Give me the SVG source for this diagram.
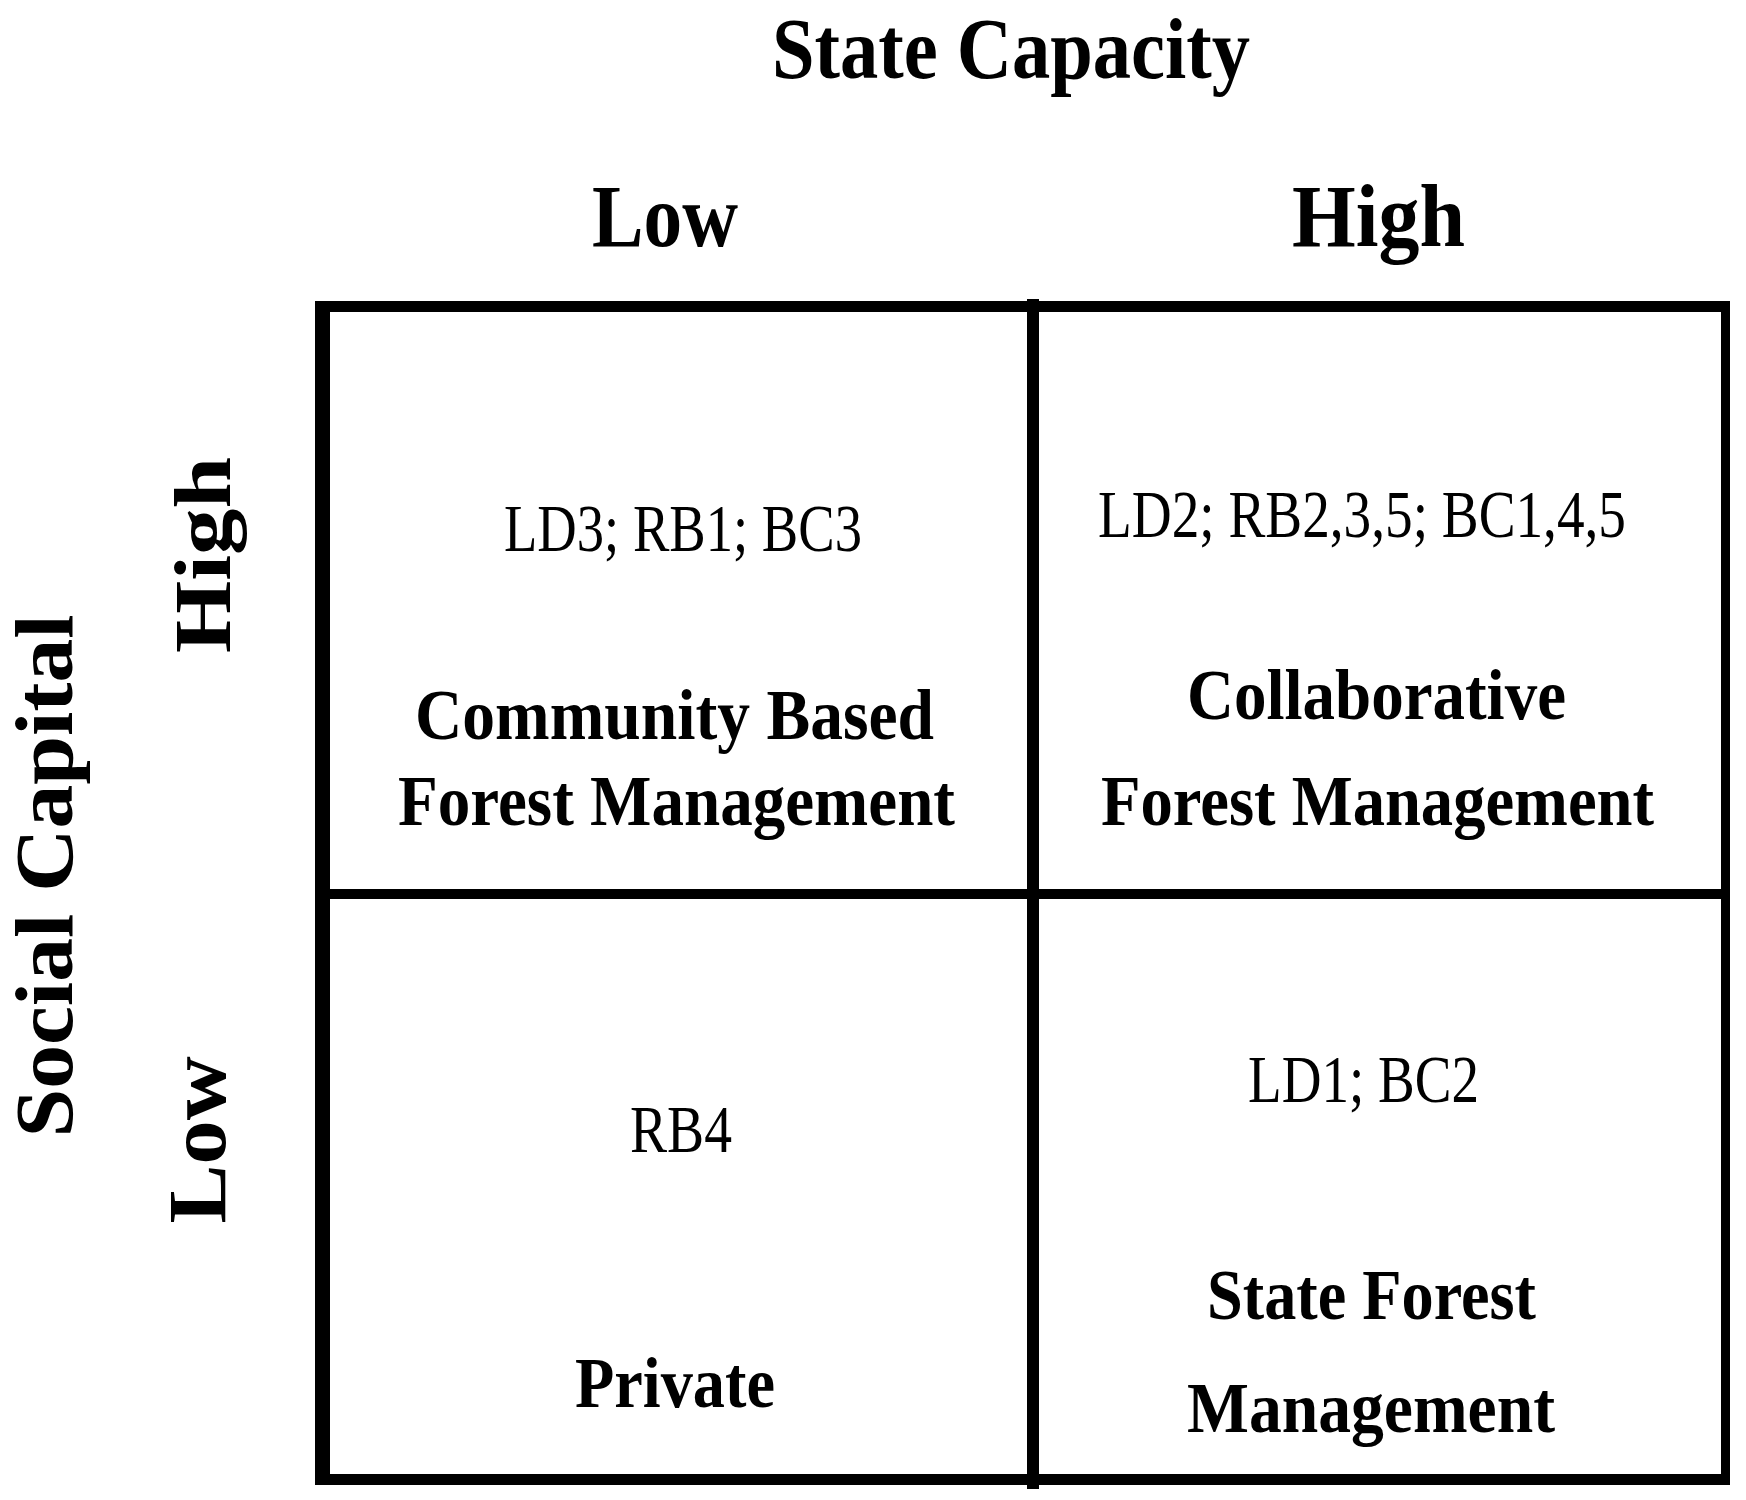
<svg xmlns="http://www.w3.org/2000/svg" width="1746" height="1500" viewBox="0 0 1746 1500">
<style>
  text { font-family: "Liberation Serif", "Times New Roman", serif; fill: #000; }
  .hdr { font-weight: 700; font-size: 88px; }
  .ttl { font-weight: 700; font-size: 72px; }
  .code { font-weight: 400; font-size: 68px; }
  .ln { fill: #000; }
</style>
<rect width="1746" height="1500" fill="#fff"/>

<g id="axis-labels">
  <text class="hdr" x="772" y="78" textLength="478" lengthAdjust="spacingAndGlyphs" style="font-size:86px">State Capacity</text>
  <text class="hdr" x="592" y="246" textLength="146" lengthAdjust="spacingAndGlyphs">Low</text>
  <text class="hdr" x="1292" y="246" textLength="173" lengthAdjust="spacingAndGlyphs">High</text>
  <text class="hdr" transform="translate(72,876) rotate(-90)" text-anchor="middle" x="0" y="0" textLength="523" lengthAdjust="spacingAndGlyphs" style="font-size:82px">Social Capital</text>
  <text class="hdr" transform="translate(230,555) rotate(-90)" text-anchor="middle" x="0" y="0" textLength="196" lengthAdjust="spacingAndGlyphs" style="font-size:80px">High</text>
  <text class="hdr" transform="translate(225,1140) rotate(-90)" text-anchor="middle" x="0" y="0" textLength="167" lengthAdjust="spacingAndGlyphs" style="font-size:83px">Low</text>
</g>

<g id="grid">
  <rect class="ln" x="315" y="301" width="15" height="1184"/>
  <rect class="ln" x="315" y="301" width="1415" height="11"/>
  <rect class="ln" x="1721" y="301" width="9" height="1184"/>
  <rect class="ln" x="315" y="1474" width="1415" height="11"/>
  <rect class="ln" x="1027" y="299" width="12" height="1190"/>
  <rect class="ln" x="315" y="889" width="1415" height="10"/>
</g>

<g id="cell-high-social-low-state">
  <text class="code" x="504" y="551" textLength="358" lengthAdjust="spacingAndGlyphs">LD3; RB1; BC3</text>
  <text class="ttl" x="415" y="739" textLength="519" lengthAdjust="spacingAndGlyphs">Community Based</text>
  <text class="ttl" x="398" y="825" textLength="557" lengthAdjust="spacingAndGlyphs">Forest Management</text>
</g>

<g id="cell-high-social-high-state">
  <text class="code" x="1098" y="537" textLength="528" lengthAdjust="spacingAndGlyphs">LD2; RB2,3,5; BC1,4,5</text>
  <text class="ttl" x="1187" y="719" textLength="379" lengthAdjust="spacingAndGlyphs">Collaborative</text>
  <text class="ttl" x="1101" y="825" textLength="553" lengthAdjust="spacingAndGlyphs">Forest Management</text>
</g>

<g id="cell-low-social-low-state">
  <text class="code" x="630" y="1152" textLength="102" lengthAdjust="spacingAndGlyphs">RB4</text>
  <text class="ttl" x="575" y="1407" textLength="200" lengthAdjust="spacingAndGlyphs">Private</text>
</g>

<g id="cell-low-social-high-state">
  <text class="code" x="1248" y="1102" textLength="231" lengthAdjust="spacingAndGlyphs">LD1; BC2</text>
  <text class="ttl" x="1207" y="1319" textLength="329" lengthAdjust="spacingAndGlyphs">State Forest</text>
  <text class="ttl" x="1187" y="1432" textLength="368" lengthAdjust="spacingAndGlyphs">Management</text>
</g>
</svg>
